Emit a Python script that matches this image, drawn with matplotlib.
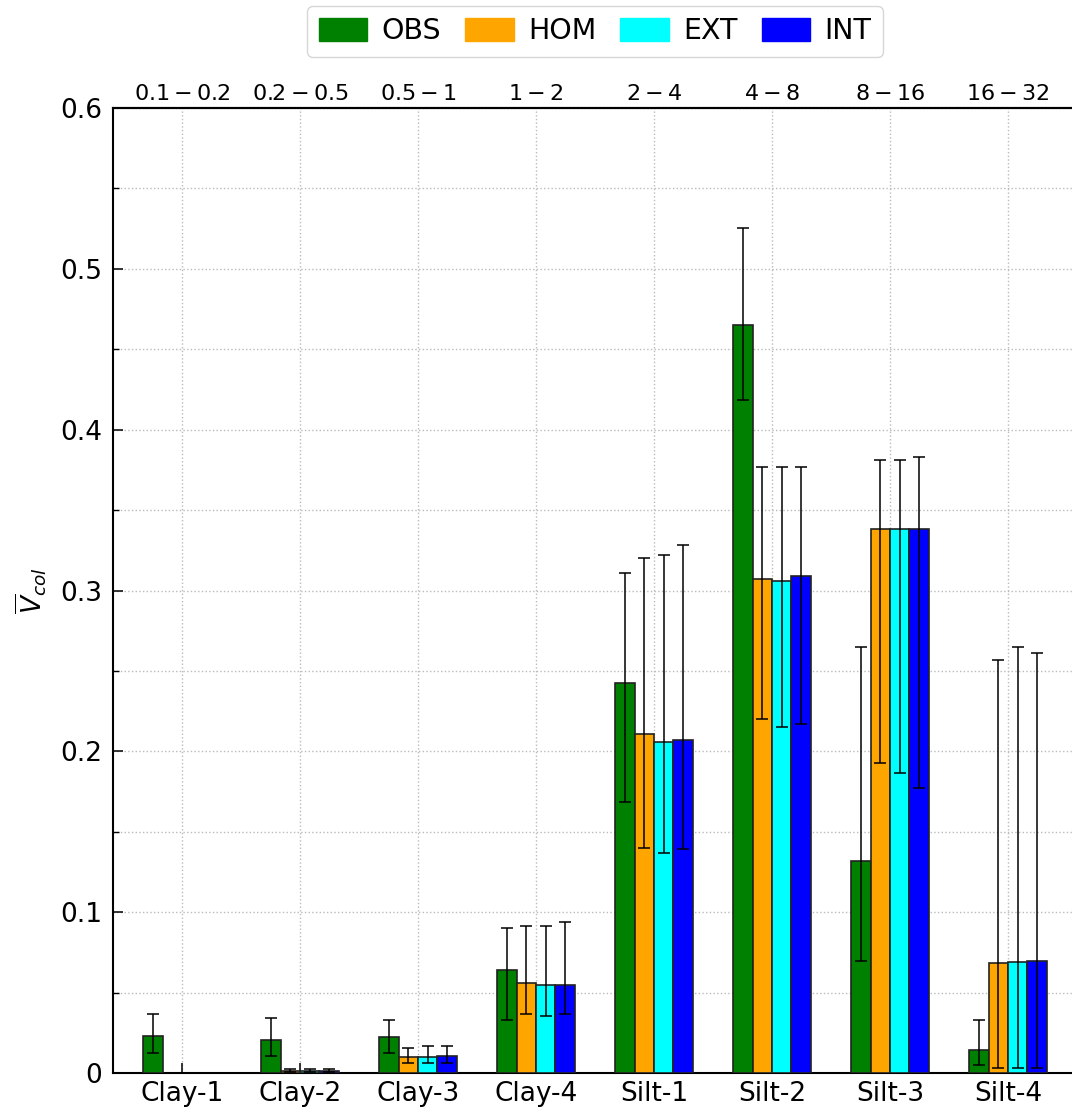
import numpy as np
import matplotlib
matplotlib.use('Agg')
import matplotlib.pyplot as plt
from matplotlib.ticker import MultipleLocator, FuncFormatter
from matplotlib.patches import Patch

# classes de tamanho (eixo de baixo) e intervalos em micrometros (eixo de cima)
classes = ['Clay-1', 'Clay-2', 'Clay-3', 'Clay-4', 'Silt-1', 'Silt-2', 'Silt-3', 'Silt-4']
intervalos = [r'$0.1-0.2$', r'$0.2-0.5$', r'$0.5-1$', r'$1-2$',
              r'$2-4$', r'$4-8$', r'$8-16$', r'$16-32$']

series = ['OBS', 'HOM', 'EXT', 'INT']
cores = ['green', 'orange', 'cyan', 'blue']

# valores medios
obs = [0.023, 0.0205, 0.0225, 0.064, 0.2425, 0.465, 0.132, 0.0145]
hom = [np.nan, 0.0015, 0.010, 0.056, 0.211, 0.307, 0.338, 0.0685]
ext = [np.nan, 0.0015, 0.010, 0.055, 0.206, 0.306, 0.338, 0.069]
int_ = [np.nan, 0.0015, 0.0105, 0.055, 0.207, 0.309, 0.338, 0.0697]

# limites inferior / superior das barras de erro
obs_lo = [0.0125, 0.0105, 0.0125, 0.033, 0.1685, 0.4185, 0.0697, 0.005]
obs_hi = [0.037, 0.034, 0.033, 0.090, 0.311, 0.5255, 0.265, 0.033]
hom_lo = [np.nan, 0.0005, 0.006, 0.0365, 0.140, 0.220, 0.193, 0.003]
hom_hi = [np.nan, 0.0025, 0.0155, 0.0914, 0.320, 0.377, 0.381, 0.257]
ext_lo = [np.nan, 0.0005, 0.0062, 0.0355, 0.137, 0.215, 0.1865, 0.003]
ext_hi = [np.nan, 0.0025, 0.017, 0.0914, 0.322, 0.377, 0.381, 0.265]
int_lo = [np.nan, 0.0005, 0.0062, 0.0365, 0.139, 0.217, 0.177, 0.003]
int_hi = [np.nan, 0.0025, 0.017, 0.094, 0.328, 0.377, 0.383, 0.261]

valores = [obs, hom, ext, int_]
limites = [(obs_lo, obs_hi), (hom_lo, hom_hi), (ext_lo, ext_hi), (int_lo, int_hi)]


def plot_barras():
    fig = plt.figure(figsize=(10.72, 11.16), dpi=100)
    ax = fig.add_axes([0.1054, 0.0385, 0.8993, 0.8647])

    x = np.arange(len(classes))
    largura = 0.165

    for i, (nome, cor) in enumerate(zip(series, cores)):
        v = np.array(valores[i], dtype=float)
        lo = np.array(limites[i][0], dtype=float)
        hi = np.array(limites[i][1], dtype=float)
        pos = x + (i - 1.5) * largura
        ax.bar(pos, v, width=largura, color=cor, edgecolor='#222222',
               linewidth=1.2, zorder=3)
        ax.errorbar(pos, v, yerr=[v - lo, hi - v], fmt='none', ecolor='black',
                    elinewidth=1.1, capsize=4.5, capthick=1.1, zorder=4)

    ax.set_xlim(-0.585, 7.585)
    ax.set_ylim(0, 0.6)
    ax.set_xticks(x)
    ax.set_xticklabels(classes)
    ax.yaxis.set_major_locator(MultipleLocator(0.1))
    ax.yaxis.set_minor_locator(MultipleLocator(0.05))
    ax.yaxis.set_major_formatter(FuncFormatter(lambda v, p: '%g' % round(v, 2)))

    ax.tick_params(axis='both', which='both', direction='in', top=False, right=False)
    ax.tick_params(axis='both', which='major', length=7, width=1.1, labelsize=19)
    ax.tick_params(axis='y', which='major', pad=8)
    ax.tick_params(axis='x', which='major', pad=6)
    ax.tick_params(axis='y', which='minor', length=4.3, width=1.0)

    ax.grid(True, which='major', linestyle=':', color='#bbbbbb', linewidth=1.0, zorder=0)
    ax.grid(True, which='minor', axis='y', linestyle=':', color='#bbbbbb', linewidth=1.0, zorder=0)

    for lado in ax.spines.values():
        lado.set_linewidth(1.5)

    ax.set_ylabel(r'$\overline{V}_{col}$', fontsize=19, labelpad=8)

    # eixo de cima com os intervalos de tamanho
    topo = ax.secondary_xaxis('top')
    topo.set_xticks(x)
    topo.set_xticklabels(intervalos)
    topo.tick_params(length=0, labelsize=16, pad=3)
    topo.spines['top'].set_linewidth(1.5)

    # legenda sem borda escura nos quadrados
    handles = [Patch(facecolor=c, edgecolor=c, label=n) for n, c in zip(series, cores)]
    ax.legend(handles=handles, loc='lower center', bbox_to_anchor=(0.5, 1.053), ncol=4,
              fontsize=20.5, handlelength=1.7, handleheight=0.85,
              handletextpad=0.5, columnspacing=0.85, borderaxespad=0)

    fig.savefig('out.png', dpi=100)


if __name__ == "__main__":
    plot_barras()
